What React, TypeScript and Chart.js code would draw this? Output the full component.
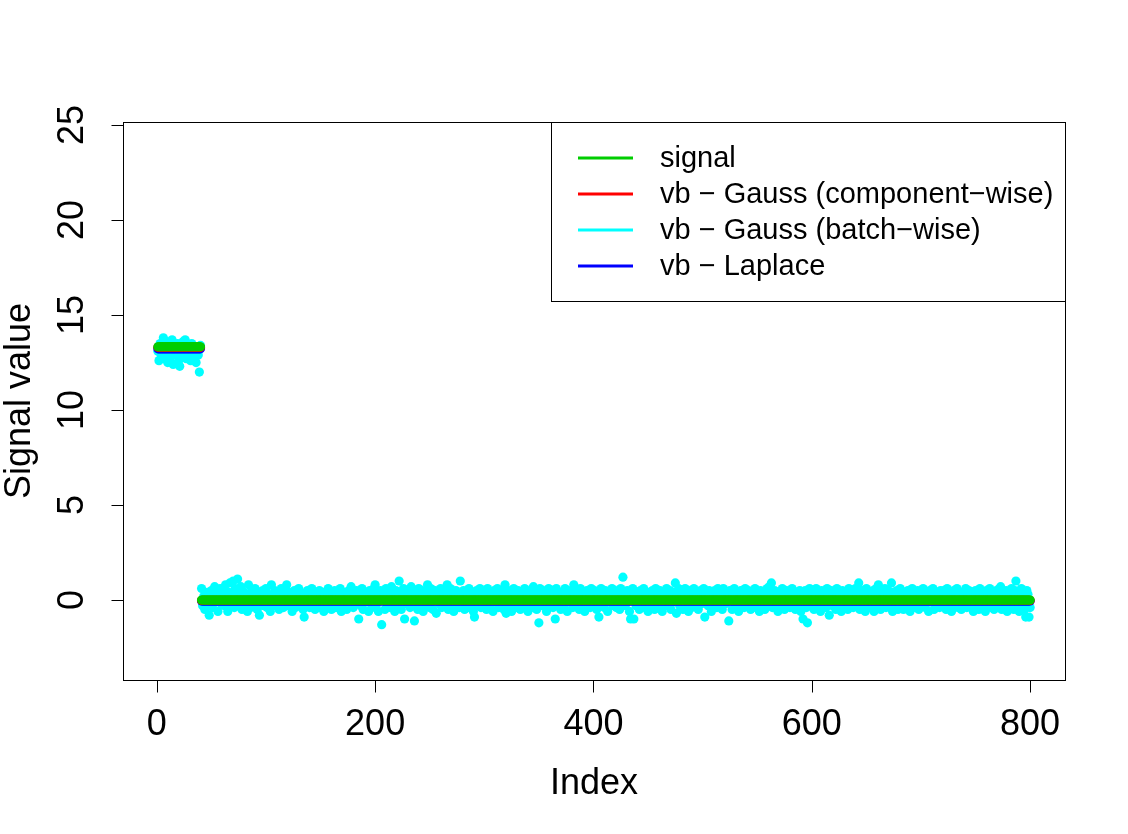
import React, { useEffect, useRef } from "react";
import { Chart, registerables } from "chart.js";

Chart.register(...registerables);

// ---- data ----
const segmentEnds = [40, 800];
const signalLevels = [13.33, 0];
const componentWiseLevels = [13.3, -0.02];
const laplaceLevels = [13.22, -0.05];

const batchWise = [
  13.1,12.6,13.5,12.9,13.3,13.8,12.7,13.2,13.6,12.5,13.0,13.4,12.8,13.7,12.4,13.1,13.3,12.9,13.5,12.6,
  12.3,13.2,12.8,13.6,13.0,13.7,12.7,13.4,12.9,13.1,12.6,13.5,13.0,12.8,13.3,12.5,13.2,12.9,12.0,13.4,
  0.6,-0.3,0.2,-0.5,0.4,0.1,-0.2,-0.8,0.3,0.5,-0.4,0.2,0.7,-0.1,0.4,-0.6,0.3,0.6,-0.2,0.1,
  0.5,-0.3,0.8,0.2,-0.6,0.4,0.9,-0.2,0.3,1.0,-0.4,0.6,0.2,1.1,-0.3,0.5,0.7,-0.5,0.1,0.4,
  -0.2,0.3,-0.6,0.8,0.2,-0.4,0.5,0.1,-0.3,0.6,0.3,-0.5,0.2,-0.8,0.4,-0.1,0.5,-0.3,0.2,0.6,
  -0.4,0.3,0.1,-0.6,0.8,0.2,-0.3,0.5,-0.2,0.4,0.1,-0.5,0.3,0.6,-0.1,-0.4,0.2,0.5,0.8,-0.3,
  0.4,-0.2,0.1,-0.6,0.3,0.5,-0.4,0.2,-0.1,0.6,-0.3,0.4,0.1,-0.5,-0.9,0.3,-0.2,0.5,0.2,-0.4,
  0.3,0.6,-0.3,0.1,-0.5,0.4,0.2,-0.2,0.5,-0.4,0.1,0.3,-0.6,0.4,-0.2,0.2,0.6,-0.3,0.1,-0.5,
  0.3,-0.1,0.5,-0.4,0.4,0.2,-0.3,0.6,-0.6,0.1,0.4,-0.2,0.3,-0.5,0.2,0.5,-0.3,0.7,0.1,-0.4,
  0.3,-0.2,0.5,0.1,-1.0,0.4,-0.3,0.6,-0.5,0.2,0.4,-0.1,0.3,-0.6,0.5,0.2,-0.4,0.1,0.6,0.8,
  -0.3,0.4,-0.6,0.2,0.5,-1.3,0.1,0.3,-0.5,0.6,-0.2,0.4,0.2,-0.4,0.7,-0.1,0.3,-0.6,0.5,0.2,
  -0.3,1.0,0.4,-0.5,0.2,0.6,-1.0,0.3,-0.2,0.5,0.1,-0.4,0.7,0.2,-0.3,-1.1,0.4,0.1,-0.5,0.6,
  0.3,-0.2,0.5,-0.6,0.2,0.4,-0.3,0.8,0.1,-0.4,0.6,0.3,-0.5,0.2,0.5,-0.7,0.1,0.4,-0.2,0.6,
  -0.4,0.2,0.5,-0.3,0.1,0.8,-0.5,0.3,0.6,-0.2,0.4,-0.6,0.2,0.5,-0.1,0.3,-0.4,1.0,0.2,-0.3,
  0.5,-0.5,0.3,0.1,-0.4,0.6,0.2,-0.2,0.4,-0.6,-0.9,0.3,0.5,-0.3,0.1,0.6,-0.4,0.2,0.4,-0.2,
  0.3,-0.5,0.6,0.1,-0.3,0.4,0.2,-0.6,0.5,-0.1,0.3,0.6,-0.4,0.2,-0.2,0.5,0.1,-0.5,0.8,-0.7,
  0.4,0.2,-0.3,0.5,-0.6,0.1,0.6,-0.2,0.3,-0.4,0.5,0.2,-0.5,0.4,0.1,-0.3,0.6,-0.1,0.3,-0.6,
  0.2,0.5,-0.4,0.3,0.7,-0.2,0.4,-0.5,0.1,-1.2,0.6,0.3,-0.3,0.5,-0.1,0.2,-0.6,0.4,0.6,-0.3,
  0.1,0.5,-0.4,0.3,-1.0,0.6,0.2,-0.2,0.4,-0.5,0.3,0.1,-0.3,0.6,0.2,-0.6,0.5,-0.1,0.3,0.4,
  -0.4,0.8,0.2,-0.3,0.5,0.1,-0.5,0.6,0.3,-0.2,0.4,-0.6,0.2,0.5,-0.1,0.3,-0.4,0.6,0.1,-0.3,
  0.5,0.2,-0.5,0.4,-0.9,0.3,0.6,-0.2,0.1,-0.4,0.5,0.3,-0.6,0.2,0.4,-0.1,0.6,-0.3,0.2,0.5,
  -0.4,0.3,0.1,-0.5,0.6,0.2,1.2,-0.3,0.4,-0.2,0.5,0.1,-0.6,-1.0,0.3,0.6,-1.0,0.2,-0.3,0.4,
  0.1,-0.5,0.5,0.3,-0.2,0.6,-0.4,0.2,0.4,-0.6,0.3,0.1,-0.3,0.5,0.2,-0.5,0.6,-0.1,0.3,-0.4,
  0.5,0.2,-0.6,0.4,0.1,-0.3,0.6,-0.2,0.3,0.5,-0.5,0.2,0.4,-0.1,0.9,-0.7,0.3,0.6,-0.3,0.1,
  0.4,-0.5,0.2,0.6,-0.2,0.3,-0.6,0.5,0.1,-0.4,0.3,0.6,-0.3,0.2,0.4,-0.5,0.1,0.5,-0.2,0.3,
  0.6,-0.9,0.2,0.4,-0.3,0.5,0.1,-0.6,0.3,-0.2,0.5,0.2,-0.4,0.6,0.1,-0.3,0.4,-0.5,0.6,0.2,
  -0.2,0.4,0.1,-1.1,0.5,0.3,-0.5,0.2,0.6,-0.3,0.1,0.4,-0.6,0.3,0.5,-0.2,0.2,-0.4,0.6,0.1,
  -0.3,0.5,0.3,-0.5,0.2,0.4,-0.1,0.6,-0.4,0.3,0.1,-0.6,0.5,0.2,-0.2,0.4,-0.5,0.3,0.6,-0.3,
  0.7,0.2,0.9,-0.4,0.3,0.5,-0.2,0.1,-0.6,0.4,0.2,-0.3,0.6,0.3,-0.5,0.1,0.5,-0.2,0.4,-0.4,
  0.3,0.6,-0.3,0.2,-0.5,0.4,0.1,-0.2,0.5,-0.6,0.3,-1.0,0.2,0.5,-0.4,-1.2,0.3,0.6,-0.2,0.1,
  0.4,-0.5,0.2,0.6,-0.3,0.3,0.1,-0.6,0.5,0.2,-0.2,0.4,-0.4,0.6,0.1,-0.8,0.3,0.5,-0.3,0.2,
  0.4,-0.5,0.6,0.1,-0.2,0.3,-0.6,0.5,0.2,-0.3,0.4,0.1,-0.5,0.6,0.3,-0.2,0.5,-0.4,0.2,0.6,
  -0.3,0.4,0.9,-0.5,0.2,0.5,-0.2,0.3,-0.6,0.6,0.1,-0.4,0.4,0.2,-0.3,0.5,-0.6,0.3,0.6,-0.2,
  0.8,0.1,-0.5,0.4,0.2,-0.3,0.6,-0.4,0.3,0.5,-0.2,0.1,0.9,-0.6,0.4,0.2,-0.3,0.5,-0.5,0.3,
  0.6,-0.2,0.2,-0.5,0.4,0.1,-0.3,0.5,0.3,-0.6,0.2,0.6,-0.4,0.1,0.4,-0.2,0.5,-0.5,0.3,0.2,
  -0.3,0.6,0.1,-0.4,0.4,0.2,-0.6,0.5,-0.1,0.3,0.6,-0.5,0.2,0.4,-0.2,0.3,-0.4,0.5,0.1,-0.3,
  0.5,0.2,-0.5,0.6,0.3,-0.2,0.4,-0.6,0.1,0.5,-0.3,0.2,0.6,-0.4,0.3,0.1,-0.5,0.4,0.2,-0.2,
  0.6,-0.4,0.3,0.5,-0.3,0.1,0.4,-0.6,0.2,0.5,-0.2,0.3,-0.5,0.6,0.1,-0.3,0.4,0.2,-0.6,0.5,
  0.3,-0.2,0.6,0.1,-0.4,0.4,-0.5,0.2,0.5,-0.3,0.3,0.6,0.7,-0.5,0.2,0.4,-0.2,0.5,-0.6,0.3,
  0.4,-0.3,0.6,0.2,-0.5,0.5,1.0,-0.2,0.3,-0.6,0.4,0.6,-0.3,0.2,-0.5,-0.9,0.5,0.3,-0.9,-0.4,
];

const xTicks = [0, 200, 400, 600, 800];
const yTicks = [0, 5, 10, 15, 20, 25];
const legendLabels = [
  "signal",
  "vb \u2212 Gauss (component\u2212wise)",
  "vb \u2212 Gauss (batch\u2212wise)",
  "vb \u2212 Laplace",
];
const legendColors = ["#00CD00", "#FF0000", "#00FFFF", "#0000FF"];
const xTitle = "Index";
const yTitle = "Signal value";

function expandSegments(levels: number[]) {
  const pts: { x: number; y: number }[] = [];
  let start = 1;
  segmentEnds.forEach((end, k) => {
    for (let i = start; i <= end; i++) pts.push({ x: i, y: levels[k] });
    start = end + 1;
  });
  return pts;
}

const FONT = '"Liberation Sans", Arial, Helvetica, sans-serif';

const rAxesPlugin = {
  id: "rAxes",
  afterDraw(chart: any) {
    const { ctx, chartArea: a, scales } = chart;
    const xs = scales.x;
    const ys = scales.y;
    ctx.save();
    ctx.strokeStyle = "#000";
    ctx.fillStyle = "#000";
    ctx.lineWidth = 1;
    // box
    ctx.strokeRect(Math.round(a.left) + 0.5, Math.round(a.top) + 0.5, Math.round(a.right - a.left), Math.round(a.bottom - a.top));
    const tl = 12;
    // x axis
    ctx.beginPath();
    const bx = Math.round(a.bottom) + 0.5;
    ctx.moveTo(xs.getPixelForValue(xTicks[0]), bx);
    ctx.lineTo(xs.getPixelForValue(xTicks[xTicks.length - 1]), bx);
    xTicks.forEach((t) => {
      const px = Math.round(xs.getPixelForValue(t)) + 0.5;
      ctx.moveTo(px, bx);
      ctx.lineTo(px, bx + tl);
    });
    ctx.stroke();
    ctx.font = `36px ${FONT}`;
    ctx.textAlign = "center";
    ctx.textBaseline = "alphabetic";
    xTicks.forEach((t) => {
      ctx.fillText(String(t), xs.getPixelForValue(t), 735);
    });
    ctx.fillText(xTitle, (a.left + a.right) / 2, 794);
    // y axis
    const lx = Math.round(a.left) + 0.5;
    ctx.beginPath();
    ctx.moveTo(lx, ys.getPixelForValue(yTicks[0]));
    ctx.lineTo(lx, ys.getPixelForValue(yTicks[yTicks.length - 1]));
    yTicks.forEach((t) => {
      const py = Math.round(ys.getPixelForValue(t)) + 0.5;
      ctx.moveTo(lx, py);
      ctx.lineTo(lx - tl, py);
    });
    ctx.stroke();
    yTicks.forEach((t) => {
      ctx.save();
      ctx.translate(83, ys.getPixelForValue(t));
      ctx.rotate(-Math.PI / 2);
      ctx.fillText(String(t), 0, 0);
      ctx.restore();
    });
    ctx.save();
    ctx.translate(30, (a.top + a.bottom) / 2);
    ctx.rotate(-Math.PI / 2);
    ctx.fillText(yTitle, 0, 0);
    ctx.restore();
    // legend
    const lgLeft = 551.5;
    const lgTop = Math.round(a.top) + 0.5;
    const lgRight = Math.round(a.right) + 0.5;
    const lgBottom = 301.5;
    ctx.fillStyle = "#fff";
    ctx.fillRect(lgLeft, lgTop, lgRight - lgLeft, lgBottom - lgTop);
    ctx.strokeStyle = "#000";
    ctx.strokeRect(lgLeft, lgTop, lgRight - lgLeft, lgBottom - lgTop);
    ctx.font = `29px ${FONT}`;
    ctx.textAlign = "left";
    ctx.textBaseline = "middle";
    legendLabels.forEach((lab, i) => {
      const y = 158 + i * 36;
      ctx.strokeStyle = legendColors[i];
      ctx.lineWidth = 3;
      ctx.beginPath();
      ctx.moveTo(578, y);
      ctx.lineTo(633, y);
      ctx.stroke();
      ctx.fillStyle = "#000";
      ctx.fillText(lab, 660, y + 1);
    });
    ctx.restore();
  },
};

export default function App() {
  const ref = useRef<HTMLCanvasElement | null>(null);
  useEffect(() => {
    document.body.style.margin = "0";
    const canvas = ref.current;
    if (!canvas) return;
    const pointStyle = { showLine: false, pointRadius: 4.6, pointBorderWidth: 0, pointHoverRadius: 4.6 };
    const chart = new Chart(canvas, {
      type: "scatter",
      data: {
        datasets: [
          { label: legendLabels[0], data: expandSegments(signalLevels), backgroundColor: legendColors[0], borderColor: legendColors[0], ...pointStyle },
          { label: legendLabels[1], data: expandSegments(componentWiseLevels), backgroundColor: legendColors[1], borderColor: legendColors[1], ...pointStyle },
          { label: legendLabels[3], data: expandSegments(laplaceLevels), backgroundColor: legendColors[3], borderColor: legendColors[3], ...pointStyle },
          { label: legendLabels[2], data: batchWise.map((v, i) => ({ x: i + 1, y: v })), backgroundColor: legendColors[2], borderColor: legendColors[2], ...pointStyle },
        ],
      },
      options: {
        animation: false,
        responsive: false,
        devicePixelRatio: 1,
        layout: { padding: { left: 123, right: 63, top: 122, bottom: 154 } },
        plugins: { legend: { display: false }, tooltip: { enabled: false } },
        events: [],
        scales: {
          x: { type: "linear", min: -30.96, max: 831.96, display: false },
          y: { type: "linear", min: -4.21, max: 25.16, display: false },
        },
      },
      plugins: [rAxesPlugin],
    });
    return () => chart.destroy();
  }, []);
  return (
    <div style={{ width: 1128, height: 834, background: "#fff" }}>
      <canvas ref={ref} width={1128} height={834} style={{ display: "block" }} />
    </div>
  );
}
